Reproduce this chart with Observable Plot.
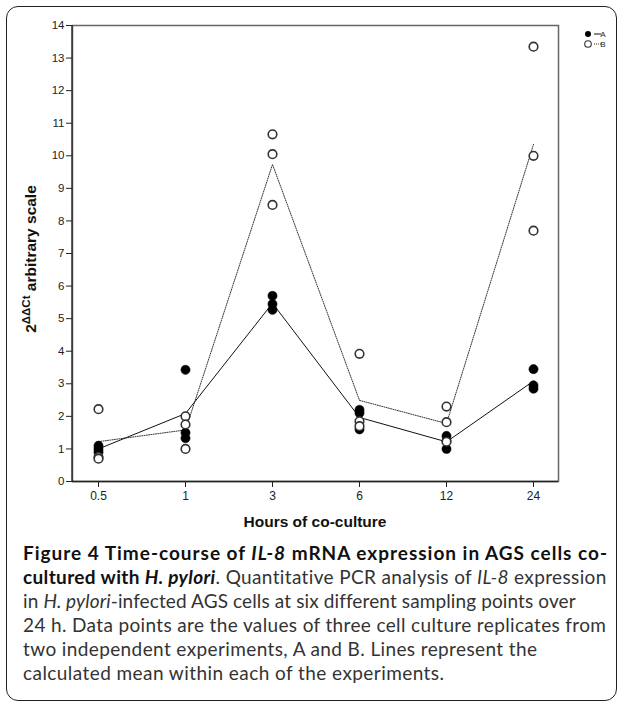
<!DOCTYPE html>
<html><head><meta charset="utf-8">
<script src="https://cdn.jsdelivr.net/npm/d3@7"></script>
<script src="https://cdn.jsdelivr.net/npm/@observablehq/plot@0.6"></script>
<style>
body{margin:0;background:#fff;}
#wrap{position:relative;width:624px;height:704px;overflow:hidden;}
#box{position:absolute;left:6px;top:6px;width:611px;height:695px;border:1.5px solid #222;border-radius:12px;box-sizing:border-box;}
#chart{position:absolute;left:0;top:0;}
#cap{position:absolute;left:23px;top:541px;font-family:Lato,"Open Sans",sans-serif;font-size:19px;line-height:24px;color:#333;white-space:nowrap;}
#cap div{display:block;width:max-content;}
#cap b{color:#111;}
</style></head>
<body><div id="wrap"><div id="box"></div><div id="chart"></div>
<div id="cap">
<div><b>Figure 4 Time-course of <i>IL-8</i> mRNA expression in AGS cells co-</b></div>
<div><b>cultured with <i>H. pylori</i></b>. Quantitative PCR analysis of <i>IL-8</i> expression</div>
<div>in <i>H. pylori</i>-infected AGS cells at six different sampling points over</div>
<div>24 h. Data points are the values of three cell culture replicates from</div>
<div>two independent experiments, A and B. Lines represent the</div>
<div>calculated mean within each of the experiments.</div>
</div>
</div>
<script>
const hours = ["0.5","1","3","6","12","24"];
const yTicks = [0,1,2,3,4,5,6,7,8,9,10,11,12,13,14];
const expA = [[1.1,1.0,0.9],[3.43,1.5,1.33],[5.7,5.45,5.27],[2.2,2.1,1.6],[1.4,1.25,1.0],[3.45,2.95,2.85]];
const expB = [[2.22,0.75,0.7],[2.0,1.75,1.0],[10.66,10.05,8.49],[3.92,1.85,1.7],[2.3,1.82,1.22],[13.35,10.0,7.7]];

const ptsA = hours.flatMap((h,i)=>expA[i].map(v=>({h,v})));
const ptsB = hours.flatMap((h,i)=>expB[i].map(v=>({h,v})));
const meanA = hours.map((h,i)=>({h,v:d3.mean(expA[i])}));
const meanB = hours.map((h,i)=>({h,v:d3.mean(expB[i])}));

const W=624,H=532,mL=72,mR=66,mT=25,mB=51;
const plot = Plot.plot({
  width:W,height:H,marginLeft:mL,marginRight:mR,marginTop:mT,marginBottom:mB,
  style:{fontFamily:"Liberation Sans, Arial, sans-serif",fontSize:"11px",color:"#222",background:"transparent"},
  x:{type:"point",domain:hours,padding:0.28,label:null},
  y:{domain:[0,14],ticks:yTicks,label:null,tickFormat:d=>String(d)},
  marks:[
    Plot.frame({stroke:"#666",strokeWidth:1.5}),
    Plot.axisX({tickSize:6,tickPadding:4,fontSize:12}),
    Plot.axisY({ticks:yTicks,tickSize:6,tickPadding:2,fontSize:11.5}),
    Plot.ruleY([0],{stroke:"#222",strokeWidth:1.3}),
    Plot.line(meanB,{x:"h",y:"v",stroke:"#333",strokeWidth:1,strokeDasharray:"1,1.3"}),
    Plot.line(meanA,{x:"h",y:"v",stroke:"#111",strokeWidth:1}),
    Plot.dot(ptsA,{x:"h",y:"v",r:4.6,fill:"#000",stroke:"#000",strokeWidth:0.5}),
    Plot.dot(ptsB,{x:"h",y:"v",r:4.3,fill:"#fff",stroke:"#333",strokeWidth:1.6})
  ]
});
document.getElementById("chart").appendChild(plot);
const svg = d3.select(plot);
svg.append("line").attr("x1",mL).attr("x2",mL).attr("y1",mT).attr("y2",H-mB).attr("stroke","#222").attr("stroke-width",1.3);
// y title
const yt = svg.append("text").attr("transform",`translate(36,259) rotate(-90)`)
  .attr("text-anchor","middle").attr("font-family","Liberation Sans, Arial, sans-serif")
  .attr("font-weight","bold").attr("font-size",15.5).attr("fill","#111");
yt.append("tspan").text("2");
yt.append("tspan").attr("dy",-6).attr("font-size",11.5).text("ΔΔCt");
yt.append("tspan").attr("dy",6).text(" arbitrary scale");
// x title
svg.append("text").attr("x",(mL+W-mR)/2).attr("y",H-5).attr("text-anchor","middle")
  .attr("font-family","Liberation Sans, Arial, sans-serif").attr("font-weight","bold").attr("font-size",15.5).attr("fill","#111")
  .text("Hours of co-culture");
// legend
const lg = svg.append("g").attr("font-family","Liberation Sans, Arial, sans-serif").attr("font-size",8).attr("fill","#222");
const lx = 588;
lg.append("circle").attr("cx",lx).attr("cy",34).attr("r",3).attr("fill","#000");
lg.append("line").attr("x1",lx+6).attr("x2",lx+13).attr("y1",34).attr("y2",34).attr("stroke","#111").attr("stroke-width",1);
lg.append("text").attr("x",lx+15).attr("y",37).text("A");
lg.append("circle").attr("cx",lx).attr("cy",44).attr("r",3.3).attr("fill","#fff").attr("stroke","#333").attr("stroke-width",1.1);
lg.append("line").attr("x1",lx+6).attr("x2",lx+13).attr("y1",44).attr("y2",44).attr("stroke","#333").attr("stroke-width",1).attr("stroke-dasharray","1,1");
lg.append("text").attr("x",lx+15).attr("y",47).text("B");
// fit caption lines to the reference line widths
const capTargets = [584, 584, 552, 583, 514, 421];
document.querySelectorAll("#cap > div").forEach((el,i)=>{
  const n = el.textContent.length - 1;
  const w = el.getBoundingClientRect().width;
  el.style.letterSpacing = ((capTargets[i]-w)/n) + "px";
});
</script>
</body></html>
